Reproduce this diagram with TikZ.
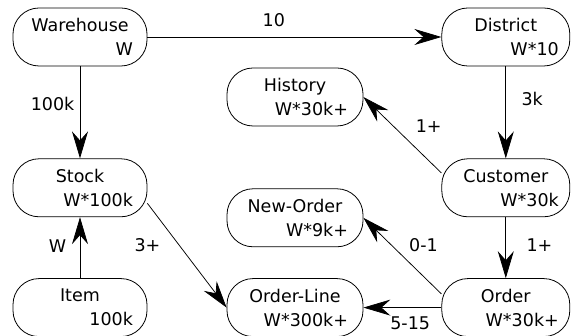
\documentclass[tikz,border=0pt]{standalone}
\usepackage{fontspec}
\setmainfont{DejaVu Sans}
\usetikzlibrary{arrows.meta}
\usetikzlibrary{positioning}

\newcommand{\tbltext}[2]{\parbox[t]{106pt}{\centering #1\par\hfill #2}}

\begin{document}
\begin{tikzpicture}[x=1pt,y=1pt]
  \tikzset{tbl/.style={draw,line width=0.8pt,rounded corners=26pt,minimum width=#1,
                       minimum height=58pt,inner sep=0pt,font=\fontsize{17.5}{24}\selectfont},
           card/.style={-{Stealth[length=27pt,width=16pt,inset=9pt]},line width=0.75pt},
           num/.style={font=\fontsize{17.5}{20}\selectfont}}
  \useasboundingbox (0,0) rectangle (571,336);
  \node[tbl=134pt] (warehouse) at (80,299) {\tbltext{Warehouse}{W}};
  \node[tbl=134pt,below=92pt] (stock) at (warehouse.south) {\tbltext{Stock}{W*100k}};
  \node[tbl=134pt,below=61pt] (item) at (stock.south) {\tbltext{Item}{100k}};
  \node[tbl=128pt,right=294pt] (district) at (warehouse.east) {\tbltext{District}{W*10}};
  \node[tbl=128pt,below=92pt] (customer) at (district.south) {\tbltext{Customer}{W*30k}};
  \node[tbl=128pt,below=61pt] (order) at (customer.south) {\tbltext{Order}{W*30k+}};
  \node[tbl=136pt,left=78pt] (orderline) at (order.west) {\tbltext{Order-Line}{W*300k+}};
  \node[tbl=136pt,above=31pt] (neworder) at (orderline.north) {\tbltext{New-Order}{W*9k+}};
  \node[tbl=136pt,above=62pt] (history) at (neworder.north) {\tbltext{History}{W*30k+}};

  \draw[card] (warehouse) -- node[num,above=7pt,pos=0.43] {10} (district);
  \draw[card] (warehouse) -- node[num,left=2pt,pos=0.41] {100k} (stock);
  \draw[card] (item) -- node[num,left=10pt,pos=0.52] {W} (stock);
  \draw[card] (district) -- node[num,right=12pt,pos=0.35] {3k} (customer);
  \draw[card] (customer) -- node[num,right=17pt,pos=0.46] {1+} (order);
  \draw[card] (customer.167) -- node[num,right=19pt,pos=0.62] {1+} (history.east);
  \draw[card] (order.168) -- node[num,right=14pt,pos=0.64] {0-1} (neworder.east);
  \draw[card] (order) -- node[num,below=7pt,pos=0.4,inner sep=2pt] {5-15} (orderline);
  \draw[card] (stock.-13) -- node[num,left=15pt,pos=0.4] {3+} (orderline.west);
\end{tikzpicture}
\end{document}
